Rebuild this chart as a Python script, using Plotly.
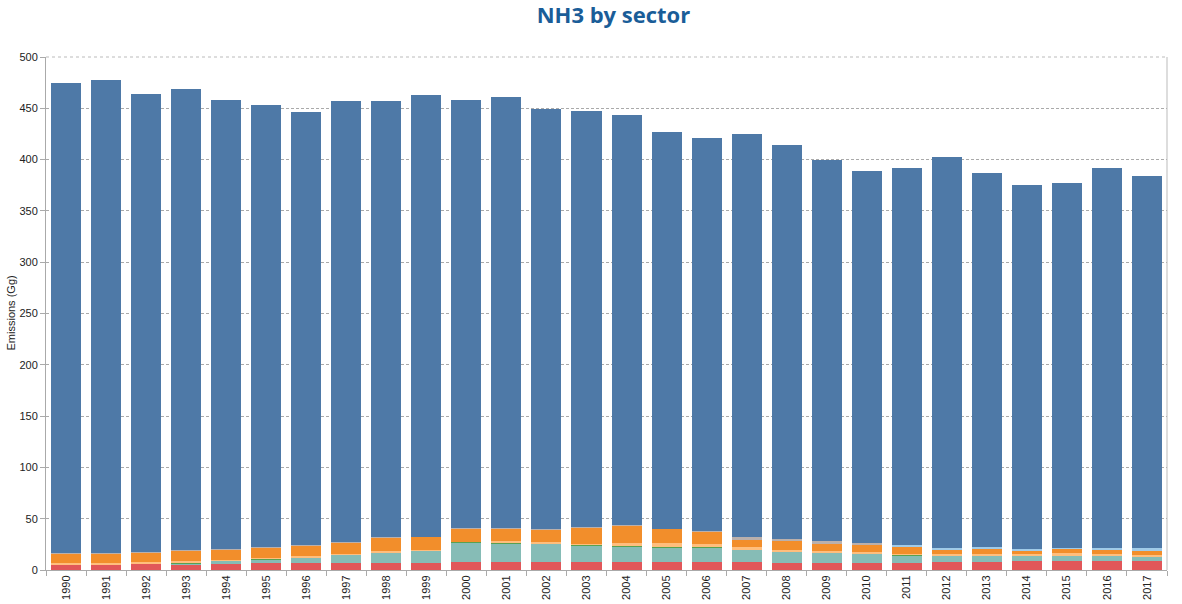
import plotly.graph_objects as go

years = [str(y) for y in range(1990, 2018)]

total = [475, 478, 464, 469, 458.5, 453.7, 446.8, 457.6, 457.6, 463.4, 458.5, 461.5, 449.8, 447.8,
         443.9, 427.3, 421.5, 425.4, 414.6, 400, 389.3, 392.2, 403, 387.3, 375.6, 377.6, 392.2, 384.4]
red = [4.9, 4.9, 6.2, 5.5, 5.9, 6.5, 6.8, 6.8, 6.8, 6.8, 7.8, 7.8, 7.8, 7.8,
       7.8, 7.8, 7.8, 7.5, 6.8, 6.8, 6.8, 6.8, 7.8, 7.8, 8.8, 8.8, 8.8, 8.8]
teal = [0, 0, 0, 1.0, 2.9, 4.2, 5.5, 8.1, 9.8, 12.0, 18.9, 18.5, 17.9, 16.3,
        15.0, 14.0, 14.0, 12.0, 11.1, 10.1, 9.1, 7.8, 6.2, 6.2, 5.2, 4.9, 5.2, 4.2]
green = [0, 0, 0, 0.7, 0.6, 0.3, 0.3, 0.3, 0.3, 0.3, 0.6, 0.3, 0.6, 0.6,
         0.6, 0.6, 0.6, 0.6, 0.6, 0.6, 0.6, 0.6, 0.6, 0.6, 0.6, 0.3, 0.6, 0.6]
peach = [1.9, 1.9, 1.3, 1.3, 0.5, 0.6, 0.6, 0.6, 1.6, 0.6, 0.4, 1.6, 0.6, 0.6,
         2.9, 3.9, 2.9, 1.9, 0.8, 1.0, 0.6, 0.8, 0.6, 0.6, 0.6, 2.3, 0.6, 0.8]
orange = [9.1, 9.1, 9.7, 10.7, 10.1, 10.4, 10.4, 11.1, 13.3, 12.5, 12.6, 12.4, 12.4, 16.3,
          16.9, 13.7, 12.0, 7.8, 9.0, 7.8, 7.3, 6.5, 4.6, 5.5, 4.2, 4.2, 4.6, 4.6]
grey = [0.4, 0.4, 0.4, 0.4, 0.4, 0.4, 0.4, 0.4, 0.4, 0.4, 0.4, 0.4, 0.4, 0.4,
        0.4, 0.4, 0.4, 1.9, 1.9, 1.6, 1.6, 0, 0, 0, 0, 0, 0, 0]
lightblue = [0, 0, 0, 0, 0, 0, 0, 0, 0, 0, 0, 0, 0, 0,
             0, 0, 0, 0, 0, 0, 0, 1.6, 1.6, 1.9, 1.3, 1.3, 1.6, 2.0]

others = [red, teal, green, peach, orange, grey, lightblue]
blue = [round(t - sum(s[i] for s in others), 2) for i, t in enumerate(total)]

series = [
    ("Other", red, "#e15759"),
    ("Road transport", teal, "#86bcb6"),
    ("Industry", green, "#59a14f"),
    ("Energy", peach, "#ffbe7d"),
    ("Waste", orange, "#f28e2b"),
    ("Residential", grey, "#bab0ac"),
    ("Residential ", lightblue, "#a0cbe8"),
    ("Agriculture", blue, "#4e79a7"),
]

fig = go.Figure()
for name, vals, col in series:
    fig.add_trace(go.Bar(x=years, y=vals, name=name, marker=dict(color=col, line=dict(width=0)),
                         hovertemplate="%{x}: %{y}<extra>" + name + "</extra>"))

fig.update_layout(
    barmode="stack",
    bargap=0.25,
    width=1182, height=604,
    margin=dict(l=46, r=15, t=57, b=34, autoexpand=False),
    paper_bgcolor="white", plot_bgcolor="white",
    showlegend=False,
    title=dict(text="<b>NH3 by sector</b>", x=0.519, xanchor="center",
               yref="container", y=0.974, yanchor="middle",
               font=dict(family="Open Sans", size=22, color="#1a5d98")),
    font=dict(family="Liberation Sans", size=11, color="#333333"),
)
fig.update_xaxes(
    type="category", range=[-0.5, 27.5], tickangle=-90, automargin=False,
    ticks="outside", tickson="boundaries", ticklen=5, tickcolor="#aaaaaa",
    showline=True, linecolor="#aaaaaa", linewidth=1, mirror=False,
    showgrid=False, tickfont=dict(size=11, color="#222222"),
)
fig.update_yaxes(
    range=[0, 500], dtick=50, ticks="outside", ticklen=5, tickcolor="#aaaaaa",
    automargin=False,
    showline=True, linecolor="#aaaaaa", linewidth=1,
    showgrid=True, gridcolor="#aaaaaa", griddash="3px,2px", gridwidth=1,
    zeroline=False,
    tickfont=dict(size=11, color="#222222"),
)
fig.add_annotation(text="Emissions (Gg)", xref="paper", yref="paper", x=0, y=0.5,
                   xshift=-36, xanchor="center", yanchor="middle", textangle=-90,
                   showarrow=False, font=dict(size=11, color="#222222"))
# right border and top dotted border
fig.add_shape(type="line", xref="paper", yref="paper", x0=1, x1=1, y0=0, y1=1,
              line=dict(color="#bbbbbb", width=1))
fig.add_shape(type="line", xref="paper", yref="paper", x0=0, x1=1, y0=1, y1=1,
              line=dict(color="#bbbbbb", width=1, dash="dot"))

fig.write_html("out.html", config={"displayModeBar": False},
               post_script="document.body.style.margin='0';document.body.style.overflow='hidden';")
